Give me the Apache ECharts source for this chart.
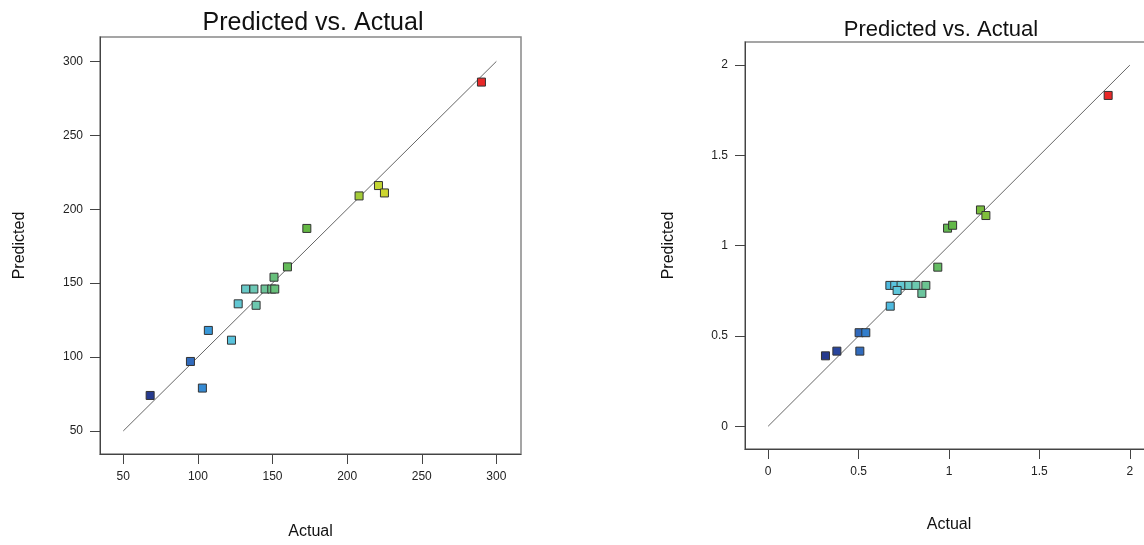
<!DOCTYPE html>
<html>
<head>
<meta charset="utf-8">
<script src="https://cdn.jsdelivr.net/npm/echarts@6/dist/echarts.min.js"></script>
<style>
html,body{margin:0;padding:0;background:#fff;overflow:hidden;width:1144px;height:545px;}
#chart{width:1170px;height:545px;}
</style>
</head>
<body>
<div id="chart"></div>
<script>
// ---- Left chart data (Actual, Predicted) ----
const leftActual    = [68, 95, 103, 107, 122.5, 127, 139, 132, 137.5, 145, 149.5, 151.5, 151, 160, 173, 208, 221, 225, 290];
const leftPredicted = [74, 97, 79, 118, 111.4, 136, 135, 146, 146, 146, 146, 146, 154, 161, 187, 209, 216, 211, 286];
const leftTicks     = [50, 100, 150, 200, 250, 300];
const leftRefLine   = [50, 300];

// ---- Right chart data (Actual, Predicted) ----
const rightActual    = [0.317, 0.38, 0.507, 0.503, 0.54, 0.675, 0.673, 0.70, 0.735, 0.778, 0.817, 0.872, 0.713, 0.85, 0.938, 0.992, 1.02, 1.174, 1.204, 1.88];
const rightPredicted = [0.39, 0.416, 0.416, 0.518, 0.518, 0.665, 0.78, 0.78, 0.78, 0.78, 0.78, 0.78, 0.752, 0.736, 0.881, 1.097, 1.113, 1.198, 1.167, 1.832];
const rightTicks     = [0, 0.5, 1, 1.5, 2];
const rightRefLine   = [0, 2];

const titleText = 'Predicted vs. Actual';
const xName = 'Actual';
const yName = 'Predicted';

const pairs = (a, b) => a.map((v, i) => [v, b[i]]);
const FONT = "'Liberation Sans', Arial, sans-serif";
const rainbow = ['#263a8e','#2a48a0','#2e58ae','#3484d0','#3caae2','#5cc6dc','#6ccac0','#6cc496','#64bc60','#62b848','#66b840','#78bc3c','#90c63a','#b0d036','#cad832','#dccc2c','#e8b42a','#f0982a','#f07a28','#ec5028','#e82828'];

function axisCommon(ticks, min, max) {
  return {
    type: 'value', min: min, max: max,
    splitLine: {show: false},
    axisLine: {show: true, onZero: false, lineStyle: {color: '#444', width: 1}},
    axisTick: {show: true, inside: false, length: 10, lineStyle: {color: '#444', width: 1}, customValues: ticks},
    axisLabel: {color: '#222', fontSize: 12, fontFamily: FONT, customValues: ticks, margin: 17},
    nameLocation: 'middle',
    nameTextStyle: {color: '#111', fontSize: 16, fontFamily: FONT}
  };
}

const option = {
  animation: false,
  backgroundColor: '#fff',
  title: [
    {text: titleText, left: 308, top: 6, textAlign: 'center',
     textStyle: {fontSize: 25, fontWeight: 'normal', color: '#111', fontFamily: FONT}},
    {text: titleText, left: 936, top: 14, textAlign: 'center',
     textStyle: {fontSize: 22, fontWeight: 'normal', color: '#111', fontFamily: FONT}}
  ],
  grid: [
    {left: 100, top: 37, width: 421, height: 421, show: true, borderColor: '#888', borderWidth: 1.5, backgroundColor: '#fff'},
    {left: 745, top: 42, width: 408, height: 407, show: true, borderColor: '#888', borderWidth: 1.5, backgroundColor: '#fff'}
  ],
  xAxis: [
    Object.assign(axisCommon(leftTicks, 34.4, 316.5), {gridIndex: 0, name: xName, nameGap: 70}),
    Object.assign(axisCommon(rightTicks, -0.128, 2.128), {gridIndex: 1, name: xName, nameGap: 68})
  ],
  yAxis: [
    Object.assign(axisCommon(leftTicks, 34.4, 316.5), {gridIndex: 0, name: yName, nameGap: 72}),
    Object.assign(axisCommon(rightTicks, -0.126, 2.128), {gridIndex: 1, name: yName, nameGap: 68})
  ],
  visualMap: [
    {show: false, type: 'continuous', seriesIndex: 1, dimension: 0,
     min: Math.min(...leftActual), max: Math.max(...leftActual), inRange: {color: rainbow}},
    {show: false, type: 'continuous', seriesIndex: 3, dimension: 0,
     min: Math.min(...rightActual), max: Math.max(...rightActual), inRange: {color: rainbow}}
  ],
  series: [
    {type: 'line', xAxisIndex: 0, yAxisIndex: 0, data: pairs(leftRefLine, leftRefLine),
     showSymbol: false, silent: true, lineStyle: {color: '#555', width: 0.9}, z: 1},
    {type: 'scatter', xAxisIndex: 0, yAxisIndex: 0, data: pairs(leftActual, leftPredicted),
     symbol: 'rect', symbolSize: 8, itemStyle: {borderColor: '#333', borderWidth: 1, opacity: 1}, z: 3},
    {type: 'line', xAxisIndex: 1, yAxisIndex: 1, data: pairs(rightRefLine, rightRefLine),
     showSymbol: false, silent: true, lineStyle: {color: '#555', width: 0.9}, z: 1},
    {type: 'scatter', xAxisIndex: 1, yAxisIndex: 1, data: pairs(rightActual, rightPredicted),
     symbol: 'rect', symbolSize: 8, itemStyle: {borderColor: '#333', borderWidth: 1, opacity: 1}, z: 3}
  ]
};

const chart = echarts.init(document.getElementById('chart'), null, {renderer: 'canvas'});
chart.setOption(option);
</script>
</body>
</html>
